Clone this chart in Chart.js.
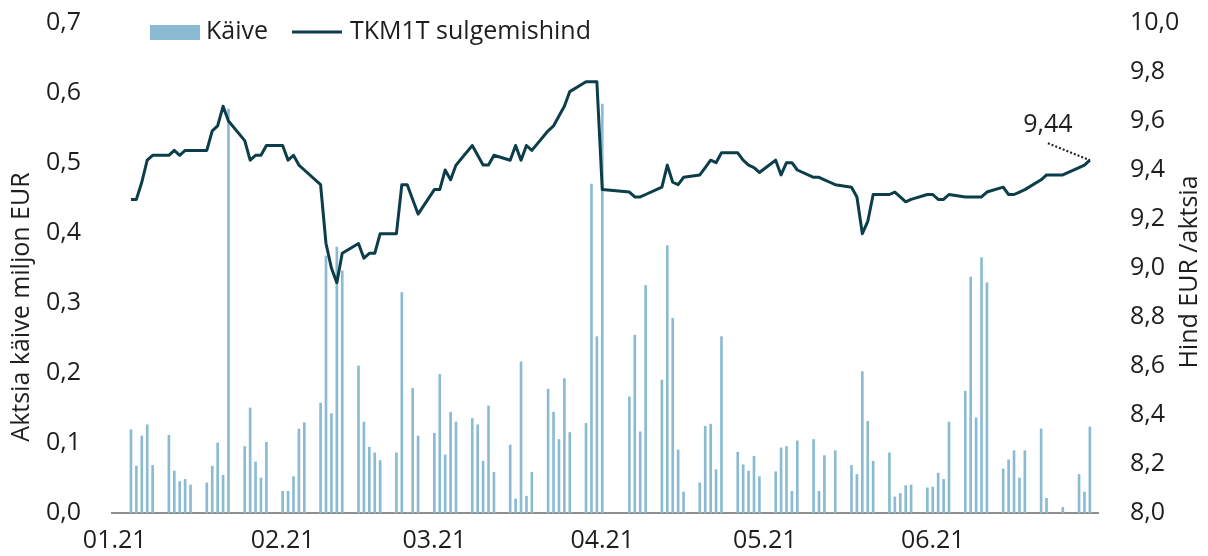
<!DOCTYPE html>
<html>
<head>
<meta charset="utf-8">
<script src="https://cdn.jsdelivr.net/npm/chart.js@4.4.1/dist/chart.umd.min.js"></script>
<style>
  html, body { margin: 0; padding: 0; background: #fff; }
</style>
</head>
<body>
<canvas id="priceChart" width="1208" height="556"></canvas>
<script>
// trading days, first half of 2021
const dates = [
  '2021-01-04','2021-01-05','2021-01-06','2021-01-07','2021-01-08','2021-01-11','2021-01-12','2021-01-13','2021-01-14','2021-01-15',
  '2021-01-18','2021-01-19','2021-01-20','2021-01-21','2021-01-22','2021-01-25','2021-01-26','2021-01-27','2021-01-28','2021-01-29',
  '2021-02-01','2021-02-02','2021-02-03','2021-02-04','2021-02-05','2021-02-08','2021-02-09','2021-02-10','2021-02-11','2021-02-12',
  '2021-02-15','2021-02-16','2021-02-17','2021-02-18','2021-02-19','2021-02-22','2021-02-23','2021-02-24','2021-02-25','2021-02-26',
  '2021-03-01','2021-03-02','2021-03-03','2021-03-04','2021-03-05','2021-03-08','2021-03-09','2021-03-10','2021-03-11','2021-03-12',
  '2021-03-15','2021-03-16','2021-03-17','2021-03-18','2021-03-19','2021-03-22','2021-03-23','2021-03-24','2021-03-25','2021-03-26',
  '2021-03-29','2021-03-30','2021-03-31',
  '2021-04-01','2021-04-06','2021-04-07','2021-04-08','2021-04-09','2021-04-12','2021-04-13','2021-04-14','2021-04-15','2021-04-16',
  '2021-04-19','2021-04-20','2021-04-21','2021-04-22','2021-04-23','2021-04-26','2021-04-27','2021-04-28','2021-04-29','2021-04-30',
  '2021-05-03','2021-05-04','2021-05-05','2021-05-06','2021-05-07','2021-05-10','2021-05-11','2021-05-12','2021-05-13','2021-05-14',
  '2021-05-17','2021-05-18','2021-05-19','2021-05-20','2021-05-21','2021-05-24','2021-05-25','2021-05-26','2021-05-27','2021-05-28',
  '2021-05-31',
  '2021-06-01','2021-06-02','2021-06-03','2021-06-04','2021-06-07','2021-06-08','2021-06-09','2021-06-10','2021-06-11',
  '2021-06-14','2021-06-15','2021-06-16','2021-06-17','2021-06-18','2021-06-21','2021-06-22','2021-06-25',
  '2021-06-28','2021-06-29','2021-06-30'
];

// turnover, million EUR
const turnover = [
  0.119, 0.067, 0.110, 0.126, 0.068, 0.111, 0.060, 0.045, 0.048, 0.040,
  0.043, 0.067, 0.100, 0.054, 0.577, 0.095, 0.150, 0.073, 0.050, 0.101,
  0.031, 0.031, 0.052, 0.120, 0.129, 0.157, 0.367, 0.142, 0.380, 0.346,
  0.210, 0.130, 0.094, 0.086, 0.075, 0.086, 0.315, 0, 0.178, 0.110,
  0.114, 0.198, 0.083, 0.144, 0.130, 0.135, 0.126, 0.074, 0.153, 0.058,
  0.097, 0.020, 0.216, 0.024, 0.058, 0.177, 0.144, 0.105, 0.192, 0.115,
  0.128, 0.470, 0.252,
  0.584, 0.166, 0.254, 0.116, 0.325, 0.190, 0.382, 0.278, 0.090, 0.030,
  0.043, 0.124, 0.127, 0.062, 0.252, 0.087, 0.069, 0.060, 0.081, 0.052,
  0.059, 0.093, 0.095, 0.031, 0.103, 0.105, 0.031, 0.082, 0, 0.089,
  0.068, 0.055, 0.202, 0.131, 0.074, 0.086, 0.023, 0.028, 0.039, 0.040,
  0.036,
  0.037, 0.057, 0.048, 0.130, 0.174, 0.337, 0.136, 0.365, 0.329,
  0.063, 0.076, 0.089, 0.050, 0.089, 0.120, 0.021, 0.008,
  0.055, 0.030, 0.123
];

// closing price, EUR
const closePrice = [
  9.28, 9.28, 9.35, 9.44, 9.46, 9.46, 9.48, 9.46, 9.48, 9.48,
  9.48, 9.56, 9.58, 9.66, 9.60, 9.52, 9.44, 9.46, 9.46, 9.50,
  9.50, 9.44, 9.46, 9.42, 9.40, 9.34, 9.10, 9.00, 8.94, 9.06,
  9.10, 9.04, 9.06, 9.06, 9.14, 9.14, 9.34, 9.34, 9.28, 9.22,
  9.32, 9.32, 9.40, 9.36, 9.42, 9.50, 9.46, 9.42, 9.42, 9.46,
  9.44, 9.50, 9.44, 9.50, 9.48, 9.56, 9.58, 9.62, 9.66, 9.72,
  9.76, 9.76, 9.76,
  9.32, 9.31, 9.29, 9.29, 9.30, 9.33, 9.42, 9.35, 9.34, 9.37,
  9.38, 9.41, 9.44, 9.43, 9.47, 9.47, 9.44, 9.42, 9.41, 9.39,
  9.44, 9.38, 9.43, 9.43, 9.40, 9.37, 9.37, 9.36, 9.35, 9.34,
  9.33, 9.29, 9.14, 9.19, 9.30, 9.30, 9.31, 9.29, 9.27, 9.28,
  9.30,
  9.30, 9.28, 9.28, 9.30, 9.29, 9.29, 9.29, 9.29, 9.31,
  9.33, 9.30, 9.30, 9.31, 9.32, 9.36, 9.38, 9.38,
  9.41, 9.42, 9.44
];

const monthTicks = ['2021-01-01', '2021-02-01', '2021-03-01', '2021-04-01', '2021-05-01', '2021-06-01'];
const monthLabels = ['01.21', '02.21', '03.21', '04.21', '05.21', '06.21'];
const turnoverTicks = [0, 0.1, 0.2, 0.3, 0.4, 0.5, 0.6, 0.7];
const priceTicks = [8.0, 8.2, 8.4, 8.6, 8.8, 9.0, 9.2, 9.4, 9.6, 9.8, 10.0];

const FONT = "'Open Sans', sans-serif";
const TEXT = '#1e1e1e';
const BAR_COLOR = '#8bbbd3';
const LINE_COLOR = '#0b3d4a';

const DAY = 86400000;
const start = Date.UTC(2021, 0, 1);
function dayIndex(iso) {
    const [y, m, d] = iso.split('-').map(Number);
    return (Date.UTC(y, m - 1, d) - start) / DAY;
}
const fmt = (v, n) => v.toFixed(n).replace('.', ',');

const xs = dates.map(dayIndex);
const monthX = monthTicks.map(dayIndex);

Chart.defaults.font.family = FONT;
Chart.defaults.font.size = 25;
Chart.defaults.color = TEXT;

// legend, axis titles and the last price label
const decor = {
    id: 'decor',
    afterDraw(chart) {
        const { ctx } = chart;
        const ds = chart.data.datasets;
        ctx.save();
        ctx.font = `25px ${FONT}`;
        ctx.textBaseline = 'middle';

        ctx.fillStyle = BAR_COLOR;
        ctx.fillRect(150, 25, 50, 15);
        ctx.fillStyle = TEXT;
        ctx.fillText(ds[1].label, 206, 32);
        ctx.strokeStyle = LINE_COLOR;
        ctx.lineWidth = 3;
        ctx.beginPath();
        ctx.moveTo(292, 32);
        ctx.lineTo(342, 32);
        ctx.stroke();
        ctx.fillText(ds[0].label, 350, 32);

        ctx.textAlign = 'center';
        ctx.save();
        ctx.translate(22, 307);
        ctx.rotate(-Math.PI / 2);
        ctx.fillText('Aktsia käive miljon EUR', 0, 0);
        ctx.restore();
        ctx.save();
        ctx.translate(1190, 272);
        ctx.rotate(-Math.PI / 2);
        ctx.fillText('Hind EUR /aktsia', 0, 0);
        ctx.restore();

        const pts = chart.getDatasetMeta(0).data;
        const last = pts[pts.length - 1];
        ctx.strokeStyle = '#222';
        ctx.lineWidth = 2;
        ctx.setLineDash([2, 2]);
        ctx.beginPath();
        ctx.moveTo(last.x - 42, last.y - 17);
        ctx.lineTo(last.x, last.y);
        ctx.stroke();
        ctx.setLineDash([]);
        ctx.fillText(fmt(closePrice[closePrice.length - 1], 2), last.x - 42, last.y - 35);
        ctx.restore();
    }
};

// fixed axis width, and no extra top/bottom room for the end labels
function fixAxis(width) {
    return s => {
        s.width = width;
        s.paddingTop = 0;
        s.paddingBottom = 0;
    };
}

const ctx = document.getElementById('priceChart').getContext('2d');
const priceChart = new Chart(ctx, {
    type: 'bar',
    data: {
        datasets: [{
            type: 'line',
            label: 'TKM1T sulgemishind',
            data: xs.map((x, i) => ({ x, y: closePrice[i] })),
            yAxisID: 'y1',
            borderColor: LINE_COLOR,
            borderWidth: 3,
            borderJoinStyle: 'round',
            pointRadius: 0,
            tension: 0,
            order: 0
        }, {
            type: 'bar',
            label: 'Käive',
            data: xs.map((x, i) => ({ x, y: turnover[i] })),
            yAxisID: 'y',
            backgroundColor: BAR_COLOR,
            barThickness: 2,
            order: 1
        }]
    },
    options: {
        responsive: false,
        animation: false,
        layout: { padding: { top: 23 } },
        plugins: {
            legend: { display: false },
            tooltip: { enabled: false }
        },
        scales: {
            x: {
                type: 'linear',
                min: -0.5,
                max: 181.5,
                offset: false,
                grid: { display: false },
                border: { display: true, color: '#8f8f8f', width: 2 },
                ticks: {
                    padding: 5,
                    autoSkip: false,
                    maxRotation: 0,
                    callback: (v, i) => monthLabels[i]
                },
                afterBuildTicks: s => { s.ticks = monthX.map(v => ({ value: v })); },
                afterFit: s => { s.height = 43; }
            },
            y: {
                position: 'left',
                min: 0,
                max: 0.7,
                grid: { display: false },
                border: { display: false },
                ticks: { padding: 23, callback: v => fmt(v, 1) },
                afterBuildTicks: s => { s.ticks = turnoverTicks.map(v => ({ value: v })); },
                afterFit: fixAxis(112)
            },
            y1: {
                position: 'right',
                min: 8,
                max: 10,
                grid: { display: false },
                border: { display: false },
                ticks: { padding: 24, callback: v => fmt(v, 1) },
                afterBuildTicks: s => { s.ticks = priceTicks.map(v => ({ value: v })); },
                afterFit: fixAxis(110)
            }
        }
    },
    plugins: [decor]
});
</script>
</body>
</html>
